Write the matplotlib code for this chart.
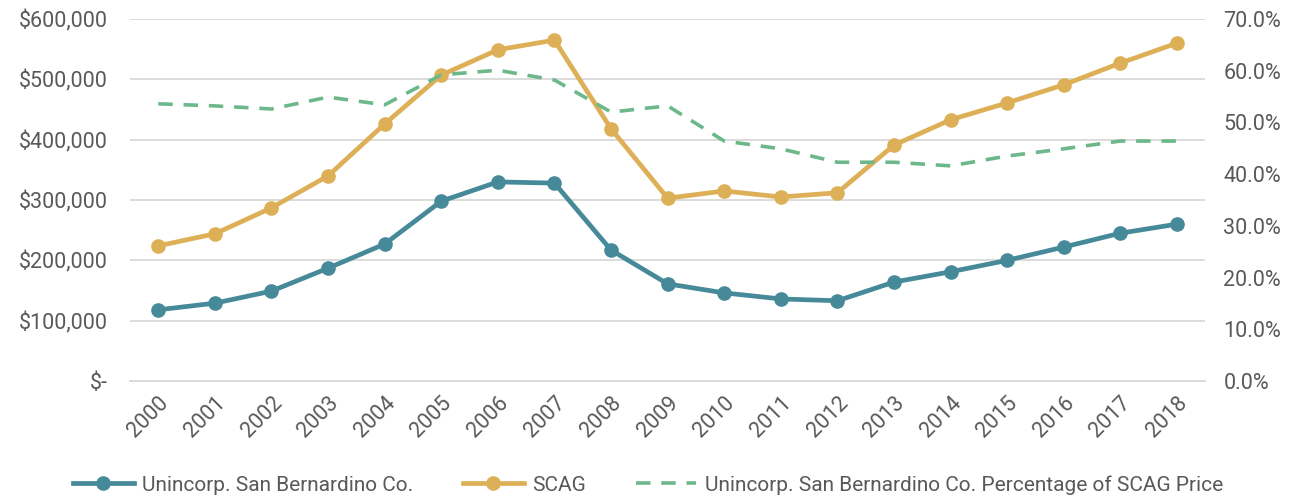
import matplotlib
matplotlib.use("Agg")
import matplotlib.pyplot as plt
from matplotlib.ticker import FuncFormatter, MultipleLocator

plt.rcParams["font.family"] = ["Roboto", "DejaVu Sans"]

years = [str(y) for y in range(2000, 2019)]
unincorp = [118000, 129000, 149000, 187000, 227000, 298000, 330000, 328000, 217000,
            161000, 146000, 136000, 133000, 164000, 181000, 200000, 222000, 245000, 260000]
scag = [224000, 244000, 287000, 340000, 426000, 507000, 549000, 565000, 418000,
        303000, 315000, 305000, 312000, 391000, 433000, 461000, 491000, 527000, 560000]
pct = [53.6, 53.2, 52.6, 54.9, 53.4, 59.2, 60.1, 58.2, 52.0,
       53.2, 46.4, 44.9, 42.3, 42.3, 41.6, 43.5, 44.9, 46.4, 46.4]

BLUE, GOLD, GREEN, TXT = "#468a9a", "#ddb057", "#6db88a", "#595959"

fig = plt.figure(figsize=(12.96, 5.0), dpi=100)
ax = fig.add_axes([0.1003, 0.238, 0.8297, 0.724])
ax2 = ax.twinx()

x = list(range(len(years)))
l1, = ax.plot(x, unincorp, color=BLUE, lw=3.4, marker="o", ms=9.5, zorder=3,
              label="Unincorp. San Bernardino Co.")
l2, = ax.plot(x, scag, color=GOLD, lw=3.4, marker="o", ms=9.5, zorder=3, label="SCAG")
l3, = ax2.plot(x, pct, color=GREEN, lw=2.6, ls=(0, (4, 3)),
               label="Unincorp. San Bernardino Co. Percentage of SCAG Price")

ax.set_ylim(0, 600000)
ax.yaxis.set_major_locator(MultipleLocator(100000))
ax.yaxis.set_major_formatter(FuncFormatter(lambda v, p: "$-" if v == 0 else f"${v:,.0f}"))
ax2.set_ylim(0, 70)
ax2.yaxis.set_major_locator(MultipleLocator(10))
ax2.yaxis.set_major_formatter(FuncFormatter(lambda v, p: f"{v:.1f}%"))

ax.set_xlim(-0.5, len(years) - 0.5)
ax.set_xticks(x)
ax.set_xticklabels(years, rotation=45, ha="right", rotation_mode="anchor")

ax.grid(axis="y", color="#d9d9d9", lw=1.3)
ax.set_axisbelow(True)
for a in (ax, ax2):
    for s in a.spines.values():
        s.set_visible(False)
    a.tick_params(length=0, colors=TXT, labelsize=15.5)
ax.spines["bottom"].set_visible(True)
ax.spines["bottom"].set_color("#d9d9d9")
ax.spines["bottom"].set_linewidth(1.3)
ax.tick_params(axis="y", pad=16)
ax2.tick_params(axis="y", pad=13)
ax.tick_params(axis="x", pad=8)

fig.legend(handles=[l1, l2, l3], loc="center", bbox_to_anchor=(0.5, 0.03), ncol=3,
           frameon=False, labelcolor=TXT, fontsize=15, handlelength=2.9,
           handletextpad=0.4, columnspacing=2.4)

fig.savefig("out.png", dpi=100)
